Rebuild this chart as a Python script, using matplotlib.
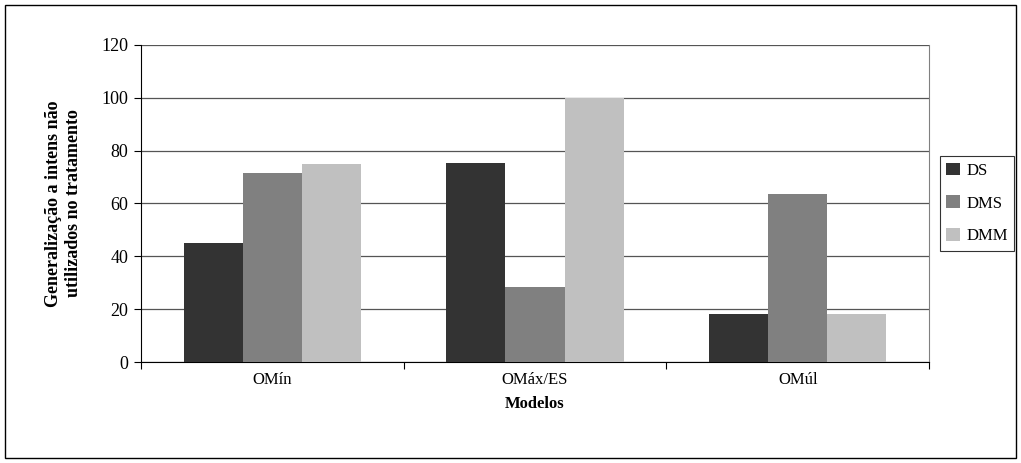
import matplotlib.pyplot as plt
import matplotlib
import numpy as np
from matplotlib.patches import Rectangle

# data
modelos = ["OMín", "OMáx/ES", "OMúl"]
ds = [45, 75.5, 18]
dms = [71.5, 28.5, 63.5]
dmm = [75, 100, 18]

matplotlib.rcParams.update({'font.size': 12, 'font.family': 'Liberation Serif'})

fig = plt.figure(figsize=(10.21, 4.63), dpi=100)
ax = fig.add_axes([0.138, 0.218, 0.772, 0.685])

x = np.arange(len(modelos))
w = 0.225
ax.bar(x - w, ds, w, color='#333333', label='DS', zorder=3)
ax.bar(x, dms, w, color='#808080', label='DMS', zorder=3)
ax.bar(x + w, dmm, w, color='#c0c0c0', label='DMM', zorder=3)

ax.set_xlim(-0.5, 2.5)
ax.set_ylim(0, 120)
ax.set_yticks(np.arange(0, 121, 20))
ax.yaxis.grid(True, color='#555555', lw=0.9, zorder=0)

ax.set_xticks([-0.5, 0.5, 1.5, 2.5])
ax.set_xticklabels([])
ax.set_xticks(x, minor=True)
ax.set_xticklabels(modelos, minor=True)
ax.tick_params(axis='x', which='minor', length=0, pad=7)
ax.tick_params(axis='x', which='major', length=5, direction='out')
ax.tick_params(axis='y', length=5, direction='out', pad=4, labelsize=13)

ax.spines['top'].set_visible(False)
ax.spines['right'].set_color('#808080')
ax.spines['left'].set_color('black')
ax.spines['bottom'].set_color('black')

ax.set_xlabel("Modelos", fontweight='bold', labelpad=6)
ax.set_ylabel("Generalização a intens não\nutilizados no tratamento", fontweight='bold',
              fontsize=13, labelpad=14)

leg = ax.legend(loc='center left', bbox_to_anchor=(1.007, 0.5), frameon=True, fancybox=False,
                edgecolor='black', handlelength=0.8, handleheight=0.8, handletextpad=0.4,
                labelspacing=1.0, borderpad=0.4, borderaxespad=0.3, fontsize=12)
leg.get_frame().set_linewidth(0.8)

fig.patches.append(Rectangle((0.005, 0.01), 0.99, 0.98, transform=fig.transFigure,
                             fill=False, edgecolor='black', lw=1.0))

plt.savefig("out.png", dpi=100)
